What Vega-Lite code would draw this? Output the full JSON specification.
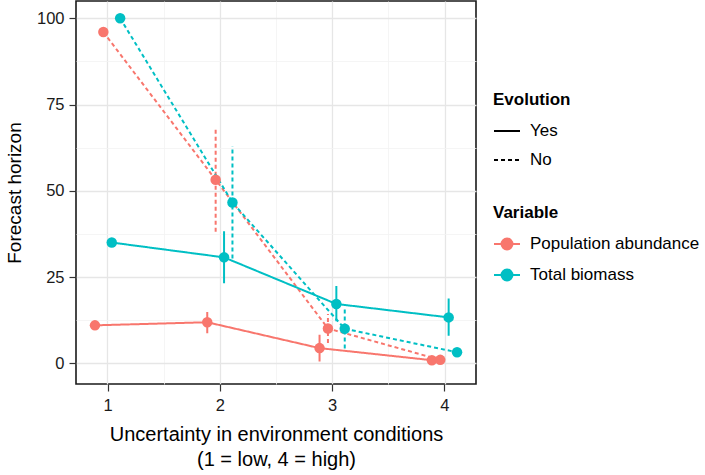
{
  "$schema": "https://vega.github.io/schema/vega-lite/v6.json",
  "width": 400,
  "height": 383,
  "autosize": {"type": "none"},
  "padding": {"left": 76, "top": 1, "right": 229, "bottom": 91},
  "background": "white",
  "config": {
    "font": "Liberation Sans",
    "view": {"stroke": "#1a1a1a", "strokeWidth": 1.6},
    "axis": {"domain": false, "labelColor": "#1a1a1a", "titleColor": "#000", "titleFontWeight": "normal", "labelFontSize": 16.5, "tickSize": 7, "tickWidth": 1.2, "tickColor": "#333"},
    "legend": {"padding": 0, "titleFontSize": 17, "labelFontSize": 17, "titleColor": "#000", "labelColor": "#000", "titleFontWeight": "bold", "titlePadding": 8, "rowPadding": 7, "labelOffset": 9, "labelLimit": 400}
  },
  "data": {
    "values": [
      {"u": 1, "variable": "Population abundance", "evolution": "Yes", "group": "PA-Yes", "value": 11.0, "lo": 11.0, "hi": 11.0},
      {"u": 2, "variable": "Population abundance", "evolution": "Yes", "group": "PA-Yes", "value": 11.9, "lo": 8.7, "hi": 14.9},
      {"u": 3, "variable": "Population abundance", "evolution": "Yes", "group": "PA-Yes", "value": 4.4, "lo": 0.5, "hi": 8.3},
      {"u": 4, "variable": "Population abundance", "evolution": "Yes", "group": "PA-Yes", "value": 0.9, "lo": 0.0, "hi": 1.8},
      {"u": 1, "variable": "Population abundance", "evolution": "No", "group": "PA-No", "value": 96.0, "lo": 96.0, "hi": 96.0},
      {"u": 2, "variable": "Population abundance", "evolution": "No", "group": "PA-No", "value": 53.2, "lo": 38.1, "hi": 68.3},
      {"u": 3, "variable": "Population abundance", "evolution": "No", "group": "PA-No", "value": 10.1, "lo": 5.9, "hi": 14.3},
      {"u": 4, "variable": "Population abundance", "evolution": "No", "group": "PA-No", "value": 1.0, "lo": 1.0, "hi": 1.0},
      {"u": 1, "variable": "Total biomass", "evolution": "Yes", "group": "TB-Yes", "value": 35.0, "lo": 35.0, "hi": 35.0},
      {"u": 2, "variable": "Total biomass", "evolution": "Yes", "group": "TB-Yes", "value": 30.7, "lo": 23.2, "hi": 38.3},
      {"u": 3, "variable": "Total biomass", "evolution": "Yes", "group": "TB-Yes", "value": 17.2, "lo": 12.2, "hi": 22.4},
      {"u": 4, "variable": "Total biomass", "evolution": "Yes", "group": "TB-Yes", "value": 13.3, "lo": 8.0, "hi": 18.8},
      {"u": 1, "variable": "Total biomass", "evolution": "No", "group": "TB-No", "value": 100.0, "lo": 100.0, "hi": 100.0},
      {"u": 2, "variable": "Total biomass", "evolution": "No", "group": "TB-No", "value": 46.6, "lo": 30.4, "hi": 62.9},
      {"u": 3, "variable": "Total biomass", "evolution": "No", "group": "TB-No", "value": 10.0, "lo": 4.3, "hi": 15.7},
      {"u": 4, "variable": "Total biomass", "evolution": "No", "group": "TB-No", "value": 3.2, "lo": 3.2, "hi": 3.2}
    ]
  },
  "resolve": {"scale": {"x": "independent"}, "axis": {"x": "independent"}},
  "layer": [
    {
      "mark": {"type": "point", "opacity": 0},
      "encoding": {
        "x": {
          "field": "u", "type": "quantitative",
          "scale": {"domain": [0.72, 4.28], "nice": false, "zero": false},
          "axis": {
            "orient": "top", "title": null, "labels": false, "ticks": false, "domain": false,
            "values": [1, 1.5, 2, 2.5, 3, 3.5, 4],
            "gridColor": {"condition": {"test": "datum.value % 1 !== 0", "value": "#F3F3F3"}, "value": "#E6E6E6"},
            "gridWidth": {"condition": {"test": "datum.value % 1 !== 0", "value": 0.8}, "value": 1.3}
          }
        },
        "y": {
          "field": "value", "type": "quantitative", "title": "Forecast horizon",
          "scale": {"domain": [-6, 105], "nice": false, "zero": false},
          "axis": {
            "titlePadding": 12, "titleFontSize": 19, "labelPadding": 5,
            "values": [0, 12.5, 25, 37.5, 50, 62.5, 75, 87.5, 100],
            "labelExpr": "datum.value % 25 === 0 ? datum.label : ''",
            "tickColor": {"condition": {"test": "datum.value % 25 !== 0", "value": "transparent"}, "value": "#333"},
            "gridColor": {"condition": {"test": "datum.value % 25 !== 0", "value": "#F3F3F3"}, "value": "#E6E6E6"},
            "gridWidth": {"condition": {"test": "datum.value % 25 !== 0", "value": 0.8}, "value": 1.3}
          }
        }
      }
    },
    {
      "encoding": {
        "x": {
          "field": "u", "type": "ordinal",
          "scale": {"type": "point", "domain": [1, 2, 3, 4], "padding": 0.281},
          "axis": {
            "title": ["Uncertainty in environment conditions", "(1 = low, 4 = high)"],
            "titleFontSize": 20, "titleLineHeight": 25, "titlePadding": 11,
            "labelPadding": 6, "labelAngle": 0, "grid": false
          }
        },
        "xOffset": {
          "field": "group", "type": "nominal",
          "scale": {"type": "point", "domain": ["PA-Yes", "PA-No", "TB-Yes", "TB-No"], "range": [-12.6, 12.6], "padding": 0}
        },
        "color": {
          "field": "variable", "type": "nominal",
          "scale": {"domain": ["Population abundance", "Total biomass"], "range": ["#F8766D", "#00BFC4"]},
          "legend": {
            "title": "Variable", "orient": "none", "legendX": 417, "legendY": 204,
            "symbolType": "M-1,0L1,0M-0.42,0A0.42,0.42 0 1,0 0.42,0A0.42,0.42 0 1,0 -0.42,0Z",
            "symbolSize": 676, "symbolStrokeWidth": 2,
            "encode": {"symbols": {"update": {"fill": {"scale": "color", "field": "value"}, "stroke": {"scale": "color", "field": "value"}, "fillOpacity": {"value": 1}, "opacity": {"value": 1}}}}
          }
        },
        "strokeDash": {
          "field": "evolution", "type": "nominal",
          "scale": {"domain": ["Yes", "No"], "range": [[1, 0], [4, 3]]},
          "legend": {
            "title": "Evolution", "orient": "none", "legendX": 417, "legendY": 91,
            "symbolType": "stroke", "symbolSize": 676, "symbolStrokeWidth": 2, "symbolStrokeColor": "#000"
          }
        }
      },
      "layer": [
        {
          "mark": {"type": "rule", "strokeWidth": 2},
          "encoding": {
            "y": {"field": "lo", "type": "quantitative", "title": "Forecast horizon"},
            "y2": {"field": "hi"}
          }
        },
        {
          "mark": {"type": "line", "strokeWidth": 2},
          "encoding": {
            "y": {"field": "value", "type": "quantitative", "title": "Forecast horizon"}
          }
        },
        {
          "mark": {"type": "point", "filled": true, "size": 110, "opacity": 1},
          "encoding": {
            "y": {"field": "value", "type": "quantitative", "title": "Forecast horizon"},
            "strokeDash": null
          }
        }
      ]
    }
  ]
}
